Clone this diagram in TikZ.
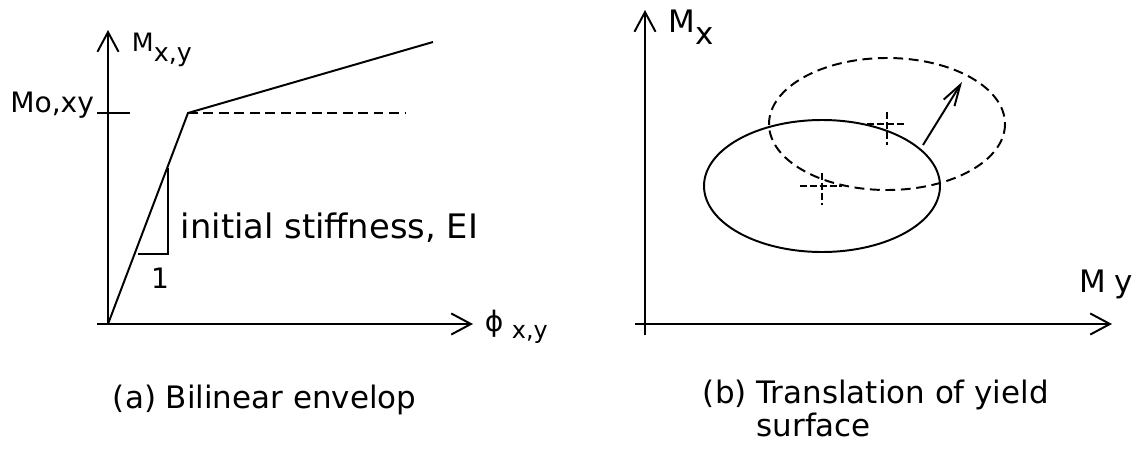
\documentclass[tikz,border=0pt]{standalone}
\usepackage{fontspec}
\setmainfont{DejaVu Sans}
\usetikzlibrary{arrows.meta}

\begin{document}
\begin{tikzpicture}[x=0.025cm,y=-0.025cm,line width=1.4pt,
  axis/.style={-{Straight Barb[length=14pt,width=15pt]}},
  shiftarrow/.style={-{Straight Barb[length=15pt,width=9pt]}},
  dashline/.style={dash pattern=on 7pt off 4pt},
  crossline/.style={dash pattern=on 5pt off 2pt},
  lbl/.style={inner sep=0pt,font=\fontsize{24}{24}\selectfont}]
\useasboundingbox (0,0) rectangle (1142,453);
% (a) bilinear envelop
\coordinate (O) at (108,324);
\coordinate (Y) at (188,113);
\draw[axis] (97,324)--(473,324);
\draw[axis] (O)--(108,30);
\draw (97,113)--(130,113);
\draw (O)--(Y)--(433,42);
\draw[dashline] (Y)--(405,113);
\draw (138,254)--(168,254)--(168,168);
\node[lbl,anchor=base west,font=\fontsize{18}{18}\selectfont] (mxy) at (131,52) {M\raisebox{-7pt}{x,y}};
\node[lbl,anchor=base east,font=\fontsize{20}{20}\selectfont] (mo) at (95,112) {Mo,xy};
\node[lbl,anchor=base,font=\fontsize{20}{20}\selectfont] (one) at (160,288) {1};
\node[lbl,anchor=base west] (ei) at (180,238) {initial stiffness, EI};
\node[lbl,anchor=base west,font=\fontsize{20}{20}\selectfont] (phi) at (484,331) {ϕ\hspace{6pt}\raisebox{-5pt}{\fontsize{17}{17}\selectfont x,y}};
\node[lbl,anchor=base west,font=\fontsize{22}{22}\selectfont] (capa) at (112,408) {(a) Bilinear envelop};
% (b) yield surface
\coordinate (c1) at (822,186);
\coordinate (c2) at (887,124);
\draw[axis] (635,324)--(1112,324);
\draw[axis] (645,335)--(645,10);
\draw (c1) ellipse [x radius=118,y radius=66];
\draw[dashline] (c2) ellipse [x radius=118,y radius=66];
\draw[crossline] (800,186)--(842,186) (822,173)--(822,205);
\draw[crossline] (867,124)--(905,124) (887,112)--(887,145);
\draw[shiftarrow] (923,145)--(962,82);
\node[lbl,anchor=base west,font=\fontsize{22}{22}\selectfont] (mx) at (668,33) {M\raisebox{-8pt}{x}};
\node[lbl,anchor=base west,font=\fontsize{22}{22}\selectfont] (my) at (1078,292) {M\hspace{6pt}y};
\node[lbl,anchor=north west,align=left,font=\fontsize{22}{23.5}\selectfont] (capb) at (702,379) {(b) Translation of yield\\\hphantom{(b) }surface};
\end{tikzpicture}
\end{document}
